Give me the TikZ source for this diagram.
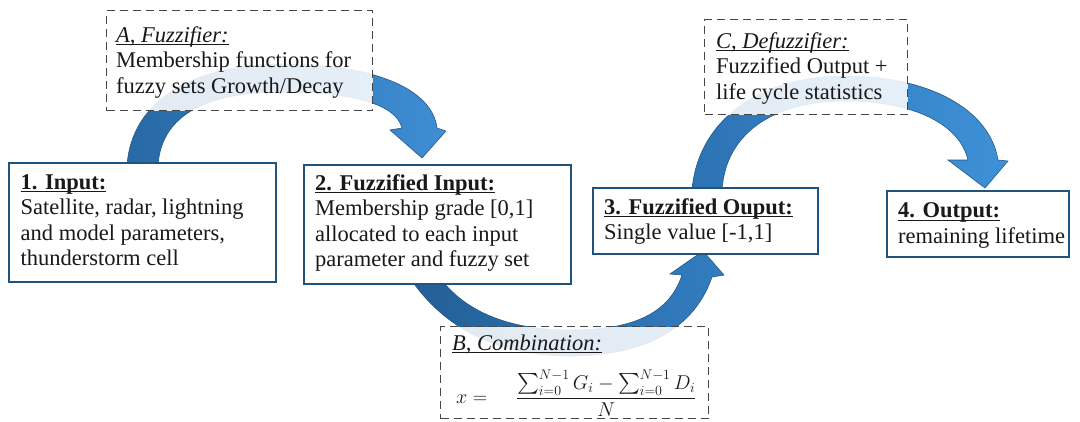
\RequirePackage{fix-cm}
\documentclass[tikz,border=0pt]{standalone}
\usepackage{amsmath}
\usepackage{fontspec}
\setmainfont{Liberation Serif}
\definecolor{boxblue}{RGB}{32,84,124}
\definecolor{dashgray}{RGB}{70,70,70}
\definecolor{textblack}{RGB}{25,25,25}
\definecolor{arrowedge}{RGB}{38,88,135}
\definecolor{aOneL}{RGB}{40,105,165}
\definecolor{aOneR}{RGB}{62,142,212}
\definecolor{aTwoL}{RGB}{35,95,150}
\definecolor{aTwoR}{RGB}{50,125,192}
\definecolor{aThreeL}{RGB}{45,115,180}
\definecolor{aThreeR}{RGB}{62,145,215}
\newcommand\boxlines[1]{\begin{tabular}[t]{@{}l@{}}#1\end{tabular}}
\newcommand\hd[1]{\underline{\smash{#1}}}
\begin{document}
\begin{tikzpicture}[x=1pt,y=-1pt,
  solidbox/.style={draw=boxblue, line width=1.6pt, fill=white, inner sep=0pt, anchor=north west},
  dashbox/.style={draw=dashgray, line width=1.3pt, dash pattern=on 8pt off 5pt, fill=white, fill opacity=0.87, inner sep=0pt, anchor=north west},
  txt/.style={anchor=base west, inner sep=0pt, font=\fontsize{22.5}{25.5}\selectfont, text=textblack},
  blockarrow/.style={draw=arrowedge, line width=0.6pt}]
\useasboundingbox (0,0) rectangle (1080,421);
\fill[white] (0,0) rectangle (1080,421);

% block arrows
\path[blockarrow, left color=aOneL, right color=aOneR]
  (127,166) .. controls (131,100) and (195,64) .. (282,64)
  .. controls (372,64) and (432,88) .. (437,128)
  -- (446,131) -- (422,158) -- (390,130) -- (402,128)
  .. controls (396,104) and (352,92) .. (282,92)
  .. controls (212,92) and (161,112) .. (158,166) -- cycle;
\path[blockarrow, left color=aTwoL, right color=aTwoR]
  (410,278) .. controls (445,330) and (500,356) .. (570,356)
  .. controls (635,356) and (692,335) .. (712,277)
  -- (724,275) -- (703,251) -- (670,274) -- (682,275)
  .. controls (668,318) and (625,330) .. (570,330)
  .. controls (515,330) and (468,315) .. (440,278) -- cycle;
\path[blockarrow, left color=aThreeL, right color=aThreeR]
  (692,190) .. controls (698,120) and (760,76) .. (845,76)
  .. controls (930,76) and (990,110) .. (998,160)
  -- (1008,161) -- (985,188) -- (948,160) -- (968,160)
  .. controls (960,125) and (915,101) .. (845,101)
  .. controls (778,101) and (726,130) .. (722,190) -- cycle;

% solid boxes
\node[solidbox, minimum width=267pt, minimum height=119pt] (inp) at (8,162) {};
\node[solidbox, minimum width=267pt, minimum height=119pt] (fin) at (303,164) {};
\node[solidbox, minimum width=225pt, minimum height=66pt] (fout) at (592,187) {};
\node[solidbox, minimum width=182pt, minimum height=66pt] (outp) at (886,190) {};

% dashed boxes
\node[dashbox, minimum width=266pt, minimum height=100pt] (fuz) at (106,10) {};
\node[dashbox, minimum width=203pt, minimum height=95pt] (defuz) at (704,19) {};
\node[dashbox, minimum width=268pt, minimum height=92pt] (comb) at (440,326) {};

% texts
\node[txt] (tinp) at (20.5,189) {\boxlines{\hd{\textbf{1. Input:}}\\Satellite, radar, lightning\\and model parameters,\\thunderstorm cell}};
\node[txt] (tfin) at (315,190) {\boxlines{\hd{\textbf{2. Fuzzified Input:}}\\Membership grade [0,1]\\allocated to each input\\parameter and fuzzy set}};
\node[txt] (tfout) at (604,214) {\boxlines{\hd{\textbf{3. Fuzzified Ouput:}}\\Single value [-1,1]}};
\node[txt] (toutp) at (898,217.5) {\boxlines{\hd{\textbf{4. Output:}}\\remaining lifetime}};
\node[txt] (tfuz) at (116,42) {\boxlines{\hd{\textit{A, Fuzzifier:}}\\Membership functions for\\fuzzy sets Growth/Decay}};
\node[txt] (tdefuz) at (716,48) {\boxlines{\hd{\textit{C, Defuzzifier:}}\\Fuzzified Output +\\life cycle statistics}};
\node[txt] (tcomb) at (452,350) {\hd{\textit{B, Combination:}}};
\node[txt, font=\fontsize{20}{24}\selectfont] (teq) at (456,403) {$x =\hspace{23pt}\dfrac{\sum_{\smash{i=0}}^{N-1} G_i - \sum_{\smash{i=0}}^{N-1} D_i}{N}$};
\end{tikzpicture}
\end{document}
